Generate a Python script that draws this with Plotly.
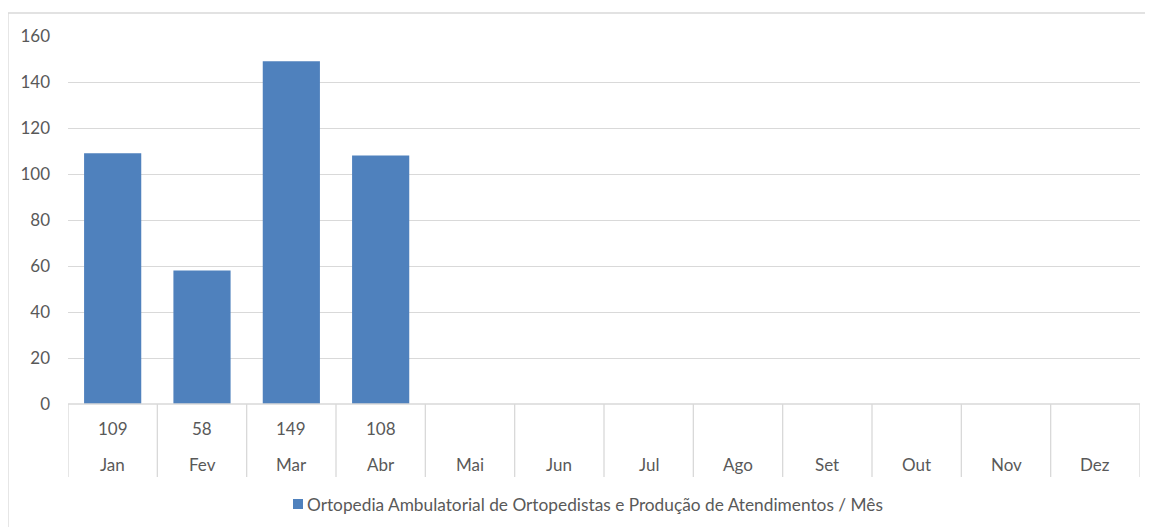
import plotly.graph_objects as go

months = ["Jan", "Fev", "Mar", "Abr", "Mai", "Jun", "Jul", "Ago", "Set", "Out", "Nov", "Dez"]
values = [109, 58, 149, 108, None, None, None, None, None, None, None, None]
series_name = "Ortopedia Ambulatorial de Ortopedistas e Produção de Atendimentos / Mês"
y_ticks = [0, 20, 40, 60, 80, 100, 120, 140, 160]

FONT = "Lato"
FS = 17
GRAY = "#595959"
LINE = "#D9D9D9"
BLUE = "#4F81BD"
W, H = 1153, 527
OX, OY = 8, 7  # page offset of the figure inside the browser window
# plot-area edges in window pixels
L, R, T, B = 68, 1140, 35, 403
ph = B - T
pw = R - L

def py(p):
    return (B - p) / ph

def px(p):
    return (p - L) / pw

fig = go.Figure()
fig.add_trace(go.Bar(
    x=list(range(12)), y=values, name=series_name,
    marker=dict(color=BLUE, line=dict(width=0)),
    showlegend=False,
))

shapes = []
for i in range(13):
    shapes.append(dict(type="line", xref="x", yref="paper", x0=i - 0.5, x1=i - 0.5,
                       y0=0, y1=py(476), line=dict(color=LINE, width=1.3)))
shapes.append(dict(type="line", xref="paper", yref="paper", x0=0, x1=1, y0=0, y1=0,
                   line=dict(color=LINE, width=1.3)))
# outer chart border
shapes.append(dict(type="line", xref="paper", yref="paper",
                   x0=px(8), x1=px(W + 20), y0=py(12), y1=py(12),
                   line=dict(color=LINE, width=1.3)))
shapes.append(dict(type="line", xref="paper", yref="paper",
                   x0=px(8), x1=px(8), y0=py(12), y1=py(H + 20),
                   line=dict(color=LINE, width=1.3)))
# legend symbol
shapes.append(dict(type="rect", xref="paper", yref="paper",
                   x0=px(293), x1=px(303), y0=py(508), y1=py(498),
                   fillcolor=BLUE, line=dict(width=0)))

annotations = []
for i, m in enumerate(months):
    annotations.append(dict(x=i, y=py(464), xref="x", yref="paper", text=m, showarrow=False,
                            xanchor="center", yanchor="middle",
                            font=dict(family=FONT, size=FS, color=GRAY)))
    if values[i] is not None:
        annotations.append(dict(x=i, y=py(428), xref="x", yref="paper", text=str(values[i]),
                                showarrow=False, xanchor="center", yanchor="middle",
                                font=dict(family=FONT, size=FS, color=GRAY)))
annotations.append(dict(x=px(305), y=py(503), xref="paper", yref="paper", text=series_name,
                        xanchor="left", yanchor="middle", showarrow=False,
                        font=dict(family=FONT, size=17.3, color=GRAY)))

fig.update_layout(
    width=W, height=H,
    margin=dict(l=L - OX, r=W - (R - OX), t=T - OY, b=H - (B - OY), pad=0, autoexpand=False),
    plot_bgcolor="white", paper_bgcolor="white",
    bargap=0.36,
    showlegend=False,
    font=dict(family=FONT, size=FS, color=GRAY),
    xaxis=dict(range=[-0.5, 11.5], showticklabels=False, showgrid=False, zeroline=False,
               showline=False, ticks="", automargin=False),
    yaxis=dict(range=[0, 160], tickvals=y_ticks, showgrid=True, gridcolor=LINE, gridwidth=1.3,
               zeroline=False, showline=False, ticks="", ticklabelstandoff=17, automargin=False,
               tickfont=dict(family=FONT, size=FS, color=GRAY)),
    shapes=shapes, annotations=annotations,
)

fig.write_html("out.html")
